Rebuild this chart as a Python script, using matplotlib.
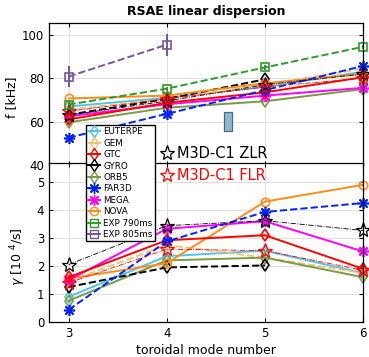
import matplotlib
matplotlib.use("Agg")
import matplotlib.pyplot as plt
from matplotlib.lines import Line2D
from matplotlib.patches import Rectangle

n = [3, 4, 5, 6]
n3 = [3, 4, 5]
n2 = [3, 4]

# frequency [kHz]
f_euterpe = [67.0, 71.0, 76.0, 83.0]
f_gem = [65.5, 70.5, 77.0, 84.5]
f_gtc = [61.0, 68.7, 73.5, 80.5]
f_gyro = [63.2, 70.5, 79.5]
f_orb5 = [59.7, 66.4, 69.4, 75.0]
f_far3d = [52.6, 63.6, 74.5, 85.7]
f_mega = [62.5, 68.0, 72.0, 75.6]
f_nova = [70.7, 72.0, 77.7, 82.0]
f_exp790 = [67.9, 75.2, 85.0, 94.5]
f_exp790_err = [1.0, 1.0, 1.0, 1.0]
f_exp805 = [80.8, 95.5]
f_exp805_err = [5.0, 5.0]
f_zlr = [63.0, 69.5, 77.0, 82.0]
f_flr = [64.8, 70.5, 76.0, 80.0]

# growth rate [10^4/s]
g_euterpe = [0.90, 2.35, 2.55, 1.75]
g_gem = [1.45, 2.75, 2.30, 1.75]
g_gtc = [1.60, 2.92, 3.10, 1.90]
g_gyro = [1.25, 1.95, 2.02]
g_orb5 = [0.76, 2.20, 2.30, 1.60]
g_far3d = [0.44, 2.88, 3.93, 4.25]
g_mega = [1.50, 3.33, 3.60, 2.52]
g_nova = [1.55, 2.10, 4.30, 4.90]
g_zlr = [2.05, 3.44, 3.62, 3.27]
g_flr = [1.40, 2.60, 2.55, 1.85]

C_EUT = "#4fc3f0"
C_GEM = "#f3c36a"
C_GTC = "#ff0000"
C_GYRO = "#000000"
C_ORB5 = "#7a9a45"
C_FAR = "#0022ff"
C_MEGA = "#ff00ff"
C_NOVA = "#ff8c1a"
C_E790 = "#2e9a2e"
C_E805 = "#76579a"
AST = (8, 2, 0)

W, H = 369, 357
fig = plt.figure(figsize=(W / 100, H / 100), dpi=100)
ax1 = fig.add_axes([49 / W, 1 - 165 / H, 314 / W, 142 / H])
ax2 = fig.add_axes([49 / W, 1 - 322 / H, 314 / W, 159 / H])

lw = 1.4
ms = 6

def style(ax):
    ax.grid(True, color="#e0e0e0", linewidth=0.7)
    ax.set_axisbelow(True)
    ax.tick_params(direction="in", length=3, labelsize=8.5, top=True, right=True)
    for s in ax.spines.values():
        s.set_linewidth(0.9)
    ax.set_xlim(2.8, 6)
    ax.set_xticks(n)

def plot_set(ax, data, extra):
    (eut, gem, gtc, gyro, orb5, far, mega, nova, zlr, flr) = data
    kw = dict(clip_on=False, markerfacecolor="none", markersize=ms)
    ax.plot(n, eut, "-", color=C_EUT, lw=lw, marker="d", markeredgewidth=1.2, **kw)
    ax.plot(n, gem, "--", color=C_GEM, lw=lw, marker="d", markeredgewidth=1.2, **kw)
    ax.plot(n, orb5, "-", color=C_ORB5, lw=lw, marker="d", markeredgewidth=1.2, **kw)
    ax.plot(n3, gyro, "--", color=C_GYRO, lw=lw, marker="d", markeredgewidth=1.2, **kw)
    ax.plot(n, nova, "-", color=C_NOVA, lw=lw, marker="o", markeredgewidth=1.2, **kw)
    ax.plot(n, mega, "-", color=C_MEGA, lw=lw, marker=AST, markeredgewidth=1.2, clip_on=False, markersize=8)
    ax.plot(n, gtc, "-", color=C_GTC, lw=lw, marker="d", markeredgewidth=1.2, **kw)
    ax.plot(n, far, "--", color=C_FAR, lw=lw, marker=AST, markeredgewidth=1.2, clip_on=False, markersize=8)
    extra()
    ax.plot(n, zlr, "-.", color="black", lw=0.6, marker="*", markeredgewidth=0.9, clip_on=False,
            markerfacecolor="none", markersize=11)
    ax.plot(n, flr, "-.", color="red", lw=0.6, marker="*", markeredgewidth=0.9, clip_on=False,
            markerfacecolor="none", markersize=11)

def exp_top():
    ax1.errorbar(n, f_exp790, yerr=f_exp790_err, fmt="--s", color=C_E790, lw=lw,
                 markerfacecolor="none", markersize=ms, markeredgewidth=1.2, clip_on=False)
    ax1.errorbar(n2, f_exp805, yerr=f_exp805_err, fmt="--s", color=C_E805, lw=lw,
                 markerfacecolor="none", markersize=ms, markeredgewidth=1.2, clip_on=False)

plot_set(ax1, (f_euterpe, f_gem, f_gtc, f_gyro, f_orb5, f_far3d, f_mega, f_nova, f_zlr, f_flr), exp_top)
ax1.add_patch(Rectangle((4.58, 55.8), 0.08, 8.8, facecolor="#8fb8d4", edgecolor="#4a6a80", lw=0.9, zorder=5))
style(ax1)
ax1.set_ylim(40, 105.5)
ax1.set_yticks([40, 60, 80, 100])
ax1.set_xticklabels([])
ax1.set_ylabel("f [kHz]", fontsize=9)
ax1.yaxis.set_label_coords((18 - 49) / 314, (165 - 97) / 142)
ax1.set_title("RSAE linear dispersion", fontsize=9, fontweight="bold", pad=6)

plot_set(ax2, (g_euterpe, g_gem, g_gtc, g_gyro, g_orb5, g_far3d, g_mega, g_nova, g_zlr, g_flr), lambda: None)
style(ax2)
ax2.set_ylim(0, 5.68)
ax2.set_yticks([0, 1, 2, 3, 4, 5])
ax2.set_ylabel(r"$\gamma$ [10 $^{4}$/s]", fontsize=9)
ax2.yaxis.set_label_coords((28 - 49) / 314, (322 - 257) / 159)
ax2.set_xlabel("toroidal mode number", fontsize=9, labelpad=3)

# legend
handles = [
    Line2D([], [], color=C_EUT, lw=lw, marker="d", markerfacecolor="none", markersize=ms),
    Line2D([], [], color=C_GEM, lw=lw, marker="d", markerfacecolor="none", markersize=ms),
    Line2D([], [], color=C_GTC, lw=lw, marker="d", markerfacecolor="none", markersize=ms),
    Line2D([], [], color=C_GYRO, lw=lw, marker="d", markerfacecolor="none", markersize=ms),
    Line2D([], [], color=C_ORB5, lw=lw, marker="d", markerfacecolor="none", markersize=ms),
    Line2D([], [], color=C_FAR, lw=lw, marker=AST, markersize=8),
    Line2D([], [], color=C_MEGA, lw=lw, marker=AST, markersize=8),
    Line2D([], [], color=C_NOVA, lw=lw, marker="o", markerfacecolor="none", markersize=ms),
    Line2D([], [], color=C_E790, lw=lw, marker="s", markerfacecolor="none", markersize=ms),
    Line2D([], [], color=C_E805, lw=lw, marker="s", markerfacecolor="none", markersize=ms),
]
labels = ["EUTERPE", "GEM", "GTC", "GYRO", "ORB5", "FAR3D", "MEGA", "NOVA", "EXP 790ms", "EXP 805ms"]
leg = fig.legend(handles, labels, loc="upper left", bbox_to_anchor=(86 / W, 1 - 125 / H),
                 fontsize=6.3, frameon=True, fancybox=False, handlelength=1.4, handletextpad=0.3,
                 borderpad=0.25, labelspacing=0.28, borderaxespad=0)
leg.get_frame().set_edgecolor("black")
leg.get_frame().set_linewidth(1.0)
leg.get_frame().set_alpha(1)
leg.set_zorder(20)

# M3D-C1 labels
fig.lines.append(Line2D([167 / W], [1 - 153 / H], transform=fig.transFigure, marker="*",
                        markerfacecolor="none", markeredgecolor="black", markersize=11, markeredgewidth=0.9, ls="none"))
fig.text(177 / W, 1 - 153 / H, "M3D-C1 ZLR", fontsize=10.5, color="black", va="center", ha="left")
fig.lines.append(Line2D([167 / W], [1 - 175 / H], transform=fig.transFigure, marker="*",
                        markerfacecolor="none", markeredgecolor="red", markersize=11, markeredgewidth=0.9, ls="none"))
fig.text(177 / W, 1 - 175 / H, "M3D-C1 FLR", fontsize=10.5, color="red", va="center", ha="left")

fig.savefig("out.png", dpi=100)
